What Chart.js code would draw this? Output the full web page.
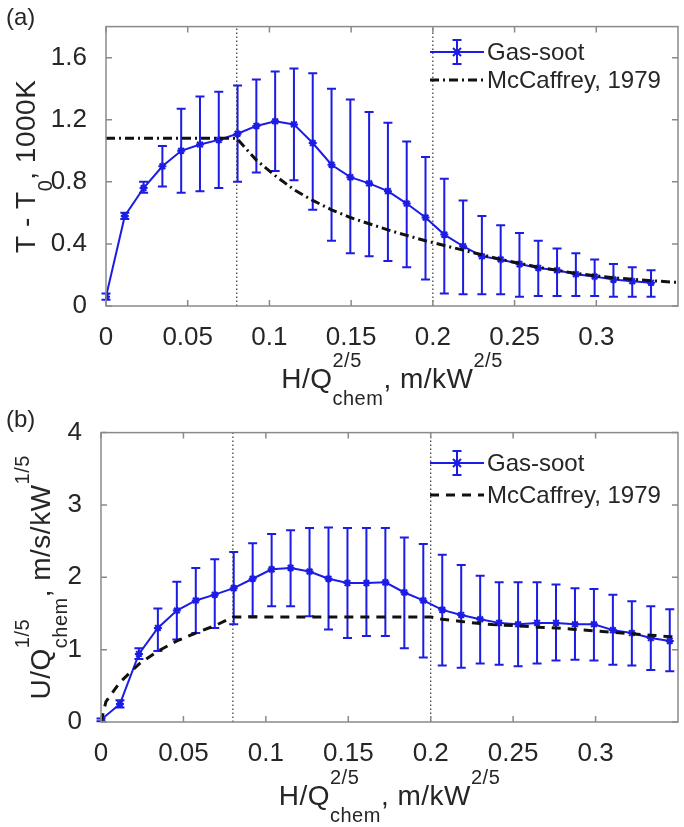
<!DOCTYPE html>
<html>
<head>
<meta charset="utf-8">
<script src="https://cdn.jsdelivr.net/npm/chart.js@4.4.0/dist/chart.umd.min.js"></script>
<style>
html, body { margin: 0; padding: 0; background: #fff; }
canvas { display: block; }
</style>
</head>
<body>
<canvas id="chartA" width="684" height="406"></canvas>
<canvas id="chartB" width="684" height="421"></canvas>
<script>
// tick values
var xTicks = [0, 0.05, 0.1, 0.15, 0.2, 0.25, 0.3];
var yTicksA = [0, 0.4, 0.8, 1.2, 1.6];
var yTicksB = [0, 1, 2, 3, 4];
var vLines = [0.08, 0.2];

// (a) temperature rise
var xA = [0, 0.0115, 0.023, 0.0345, 0.046, 0.0575, 0.069, 0.0805, 0.092, 0.1035, 0.115, 0.1265, 0.138, 0.1495, 0.161,
          0.1725, 0.184, 0.1955, 0.207, 0.2185, 0.23, 0.2415, 0.253, 0.2645, 0.276, 0.2875, 0.299, 0.3105, 0.322, 0.3335];
var tA = [0.06, 0.58, 0.76, 0.90, 1.00, 1.04, 1.07, 1.11, 1.16, 1.19, 1.17, 1.05, 0.91, 0.83, 0.79,
          0.74, 0.66, 0.57, 0.46, 0.385, 0.32, 0.30, 0.27, 0.245, 0.23, 0.205, 0.19, 0.17, 0.16, 0.15];
var tAHi = [0.08, 0.60, 0.80, 1.03, 1.27, 1.35, 1.38, 1.42, 1.46, 1.51, 1.53, 1.50, 1.40, 1.33, 1.25,
            1.18, 1.06, 0.96, 0.82, 0.68, 0.58, 0.52, 0.47, 0.42, 0.37, 0.34, 0.30, 0.27, 0.25, 0.23];
var tALo = [0.04, 0.56, 0.73, 0.77, 0.73, 0.74, 0.76, 0.80, 0.86, 0.87, 0.81, 0.62, 0.42, 0.34, 0.32,
            0.29, 0.25, 0.17, 0.08, 0.075, 0.075, 0.075, 0.06, 0.065, 0.065, 0.065, 0.065, 0.06, 0.06, 0.06];
var xMcA = [0, 0.08, 0.092, 0.1035, 0.115, 0.1265, 0.138, 0.1495, 0.161, 0.1725, 0.184, 0.1955, 0.207,
            0.2185, 0.23, 0.2415, 0.253, 0.2645, 0.276, 0.2875, 0.299, 0.3105, 0.322, 0.3335, 0.35];
var tMcA = [1.08, 1.08, 0.94, 0.84, 0.75, 0.68, 0.62, 0.57, 0.53, 0.49, 0.455, 0.42, 0.39,
            0.36, 0.33, 0.30, 0.275, 0.25, 0.23, 0.21, 0.195, 0.182, 0.172, 0.163, 0.152];

// (b) velocity
var xB = [0, 0.0115, 0.023, 0.0345, 0.046, 0.0575, 0.069, 0.0805, 0.092, 0.1035, 0.115, 0.1265, 0.138, 0.1495, 0.161,
          0.1725, 0.184, 0.1955, 0.207, 0.2185, 0.23, 0.2415, 0.253, 0.2645, 0.276, 0.2875, 0.299, 0.3105, 0.322, 0.3335, 0.345];
var uB = [0.03, 0.25, 0.94, 1.30, 1.54, 1.68, 1.76, 1.85, 1.98, 2.11, 2.13, 2.08, 1.98, 1.92, 1.92,
          1.93, 1.79, 1.68, 1.55, 1.48, 1.42, 1.37, 1.35, 1.37, 1.37, 1.35, 1.35, 1.27, 1.23, 1.16, 1.12];
var uBHi = [0.05, 0.30, 1.02, 1.57, 1.94, 2.13, 2.25, 2.35, 2.47, 2.60, 2.65, 2.68, 2.69, 2.68, 2.68,
            2.68, 2.55, 2.46, 2.31, 2.17, 2.02, 1.93, 1.93, 1.93, 1.90, 1.85, 1.84, 1.76, 1.67, 1.60, 1.56];
var uBLo = [0.01, 0.20, 0.87, 0.98, 1.14, 1.23, 1.30, 1.35, 1.46, 1.60, 1.60, 1.46, 1.28, 1.16, 1.19,
            1.19, 1.02, 0.89, 0.78, 0.75, 0.81, 0.79, 0.77, 0.81, 0.85, 0.86, 0.85, 0.79, 0.78, 0.72, 0.70];
var xMcB = [0, 0.003, 0.0115, 0.023, 0.0345, 0.046, 0.0575, 0.069, 0.08, 0.2, 0.207, 0.2185, 0.23, 0.2415,
            0.253, 0.2645, 0.276, 0.2875, 0.299, 0.3105, 0.322, 0.3335, 0.345, 0.35];
var uMcB = [0, 0.28, 0.55, 0.80, 0.98, 1.12, 1.23, 1.33, 1.45, 1.45, 1.42, 1.39, 1.36, 1.34,
            1.33, 1.31, 1.30, 1.28, 1.26, 1.24, 1.22, 1.20, 1.18, 1.17];

var FONT = "'Liberation Sans', Arial, Helvetica, sans-serif";
var TXT = '#262626';
var BLUE = 'rgb(28,28,228)';
var AXC = '#8a8a8a';

function pts(xs, ys) {
  return xs.map(function (x, i) { return { x: x, y: ys[i] }; });
}

// text with super/subscripts: parts = [[main, sup, sub], ...]
function drawRich(ctx, parts, x, y, rot) {
  var big = '28px ' + FONT, small = '20px ' + FONT;
  ctx.save();
  ctx.translate(x, y);
  if (rot) ctx.rotate(-Math.PI / 2);
  ctx.fillStyle = TXT;
  ctx.textAlign = 'left';
  ctx.textBaseline = 'alphabetic';
  ctx.letterSpacing = '0.5px';
  var w = 0, i, p, a, b;
  for (i = 0; i < parts.length; i++) {
    p = parts[i];
    ctx.font = big; w += ctx.measureText(p[0]).width;
    ctx.font = small;
    a = p[1] ? ctx.measureText(p[1]).width : 0;
    b = p[2] ? ctx.measureText(p[2]).width : 0;
    w += Math.max(a, b);
  }
  var cx = -w / 2;
  for (i = 0; i < parts.length; i++) {
    p = parts[i];
    ctx.font = big; ctx.fillText(p[0], cx, 0); cx += ctx.measureText(p[0]).width;
    ctx.font = small;
    a = 0; b = 0;
    if (p[1]) { ctx.fillText(p[1], cx, -21); a = ctx.measureText(p[1]).width; }
    if (p[2]) { ctx.fillText(p[2], cx, 17); b = ctx.measureText(p[2]).width; }
    cx += Math.max(a, b);
  }
  ctx.restore();
}

var decor = {
  id: 'decor',
  beforeDatasetsDraw: function (chart, args, o) {
    // error bars of the Gas-soot series
    var ctx = chart.ctx, xs = chart.scales.x, ys = chart.scales.y;
    ctx.save();
    ctx.strokeStyle = BLUE;
    ctx.lineWidth = 2;
    for (var i = 0; i < o.ex.length; i++) {
      var px = xs.getPixelForValue(o.ex[i]);
      var p1 = ys.getPixelForValue(o.hi[i]);
      var p2 = ys.getPixelForValue(o.lo[i]);
      ctx.beginPath();
      ctx.moveTo(px, p1); ctx.lineTo(px, p2);
      ctx.moveTo(px - 4.5, p1); ctx.lineTo(px + 4.5, p1);
      ctx.moveTo(px - 4.5, p2); ctx.lineTo(px + 4.5, p2);
      ctx.stroke();
    }
    ctx.restore();
  },
  afterDraw: function (chart, args, o) {
    var ctx = chart.ctx, a = chart.chartArea;
    var xs = chart.scales.x, ys = chart.scales.y;
    ctx.save();
    // box and inward ticks
    ctx.strokeStyle = AXC;
    ctx.lineWidth = 1.5;
    ctx.strokeRect(a.left, a.top, a.right - a.left, a.bottom - a.top);
    ctx.beginPath();
    xs.ticks.forEach(function (t) {
      var px = xs.getPixelForValue(t.value);
      ctx.moveTo(px, a.bottom); ctx.lineTo(px, a.bottom - 6);
      ctx.moveTo(px, a.top); ctx.lineTo(px, a.top + 6);
    });
    ys.ticks.forEach(function (t) {
      var py = ys.getPixelForValue(t.value);
      ctx.moveTo(a.left, py); ctx.lineTo(a.left + 6, py);
      ctx.moveTo(a.right, py); ctx.lineTo(a.right - 6, py);
    });
    ctx.stroke();

    // axis titles
    drawRich(ctx, o.xLabel, (a.left + a.right) / 2, o.xBase, false);
    drawRich(ctx, o.yLabel, o.yBase, (a.top + a.bottom) / 2, true);

    // panel letter
    ctx.fillStyle = TXT;
    ctx.font = '24px ' + FONT;
    ctx.textAlign = 'left';
    ctx.textBaseline = 'middle';
    ctx.fillText(o.panel, 6, o.panelY);

    // legend
    var ds = chart.data.datasets.filter(function (d) { return d.inLegend; });
    ds.forEach(function (d, k) {
      var ly = o.legY[k];
      ctx.save();
      ctx.strokeStyle = d.borderColor;
      ctx.lineWidth = d.borderWidth;
      ctx.setLineDash(d.borderDash || []);
      ctx.beginPath();
      ctx.moveTo(430, ly); ctx.lineTo(484, ly);
      ctx.stroke();
      ctx.setLineDash([]);
      if (d.hasErr) {
        ctx.lineWidth = 2;
        ctx.beginPath();
        ctx.moveTo(457, ly - 12); ctx.lineTo(457, ly + 12);
        ctx.moveTo(452.5, ly - 12); ctx.lineTo(461.5, ly - 12);
        ctx.moveTo(452.5, ly + 12); ctx.lineTo(461.5, ly + 12);
        ctx.moveTo(453, ly - 4); ctx.lineTo(461, ly + 4);
        ctx.moveTo(453, ly + 4); ctx.lineTo(461, ly - 4);
        ctx.stroke();
      }
      ctx.restore();
      ctx.fillStyle = TXT;
      ctx.font = '24px ' + FONT;
      ctx.textBaseline = 'middle';
      ctx.fillText(d.label, 487, ly + 1);
    });
    ctx.restore();
  }
};

function makeChart(id, cfg) {
  var datasets = [{
    label: 'Gas-soot',
    data: pts(cfg.x, cfg.y),
    borderColor: BLUE,
    backgroundColor: BLUE,
    borderWidth: 2,
    pointStyle: 'star',
    pointRadius: 4,
    pointBorderWidth: 2,
    inLegend: true,
    hasErr: true,
    order: 2
  }, {
    label: 'McCaffrey, 1979',
    data: pts(cfg.xMc, cfg.yMc),
    borderColor: '#111',
    borderWidth: 3,
    borderDash: cfg.dash,
    pointRadius: 0,
    inLegend: true,
    order: 1
  }];
  vLines.forEach(function (v) {
    datasets.push({
      label: 'line ' + v,
      data: [{ x: v, y: 0 }, { x: v, y: cfg.yMax }],
      borderColor: '#333',
      borderWidth: 1.2,
      borderDash: [1.5, 2.5],
      pointRadius: 0,
      order: 3
    });
  });

  return new Chart(document.getElementById(id), {
    type: 'line',
    data: { datasets: datasets },
    options: {
      responsive: false,
      animation: false,
      events: [],
      layout: { padding: { top: cfg.padTop, left: 0, right: 0, bottom: 0 } },
      plugins: {
        legend: { display: false },
        tooltip: { enabled: false },
        decor: {
          ex: cfg.x, hi: cfg.hi, lo: cfg.lo,
          xLabel: cfg.xLabel, yLabel: cfg.yLabel,
          xBase: cfg.xBase, yBase: cfg.yBase,
          panel: cfg.panel, panelY: cfg.panelY,
          legY: cfg.legY
        }
      },
      scales: {
        x: {
          type: 'linear', min: 0, max: 0.35,
          grid: { display: false }, border: { display: false },
          afterBuildTicks: function (s) { s.ticks = xTicks.map(function (v) { return { value: v }; }); },
          afterFit: function (s) { s.height = cfg.xAxisH; },
          ticks: {
            color: TXT, font: { family: FONT, size: 26 }, padding: cfg.xPad,
            maxRotation: 0, autoSkip: false,
            callback: function (v) { return String(v); }
          }
        },
        y: {
          type: 'linear', min: 0, max: cfg.yMax,
          grid: { display: false }, border: { display: false },
          afterBuildTicks: function (s) { s.ticks = cfg.yTicks.map(function (v) { return { value: v }; }); },
          afterFit: function (s) { s.width = cfg.yAxisW; },
          ticks: {
            color: TXT, font: { family: FONT, size: 26 }, padding: 11,
            callback: function (v) { return String(v); }
          }
        }
      }
    },
    plugins: [decor]
  });
}

makeChart('chartA', {
  x: xA, y: tA, hi: tAHi, lo: tALo, xMc: xMcA, yMc: tMcA,
  dash: [9, 4, 2, 4], yMax: 1.8, yTicks: yTicksA,
  padTop: 17, xAxisH: 100, yAxisW: 106, xPad: 8,
  xLabel: [['H/Q', '2/5', 'chem'], [', m/kW', '2/5', null]],
  yLabel: [['T - T', null, '0'], [', 1000K', null, null]],
  xBase: 388, yBase: 35,
  panel: '(a)', panelY: 18, legY: [52, 80]
});

makeChart('chartB', {
  x: xB, y: uB, hi: uBHi, lo: uBLo, xMc: xMcB, yMc: uMcB,
  dash: [9, 7], yMax: 4, yTicks: yTicksB,
  padTop: 23, xAxisH: 105, yAxisW: 101, xPad: 8,
  xLabel: [['H/Q', '2/5', 'chem'], [', m/kW', '2/5', null]],
  yLabel: [['U/Q', '1/5', 'chem'], [', m/s/kW', '1/5', null]],
  xBase: 399, yBase: 50,
  panel: '(b)', panelY: 14, legY: [57, 89]
});
</script>
</body>
</html>
